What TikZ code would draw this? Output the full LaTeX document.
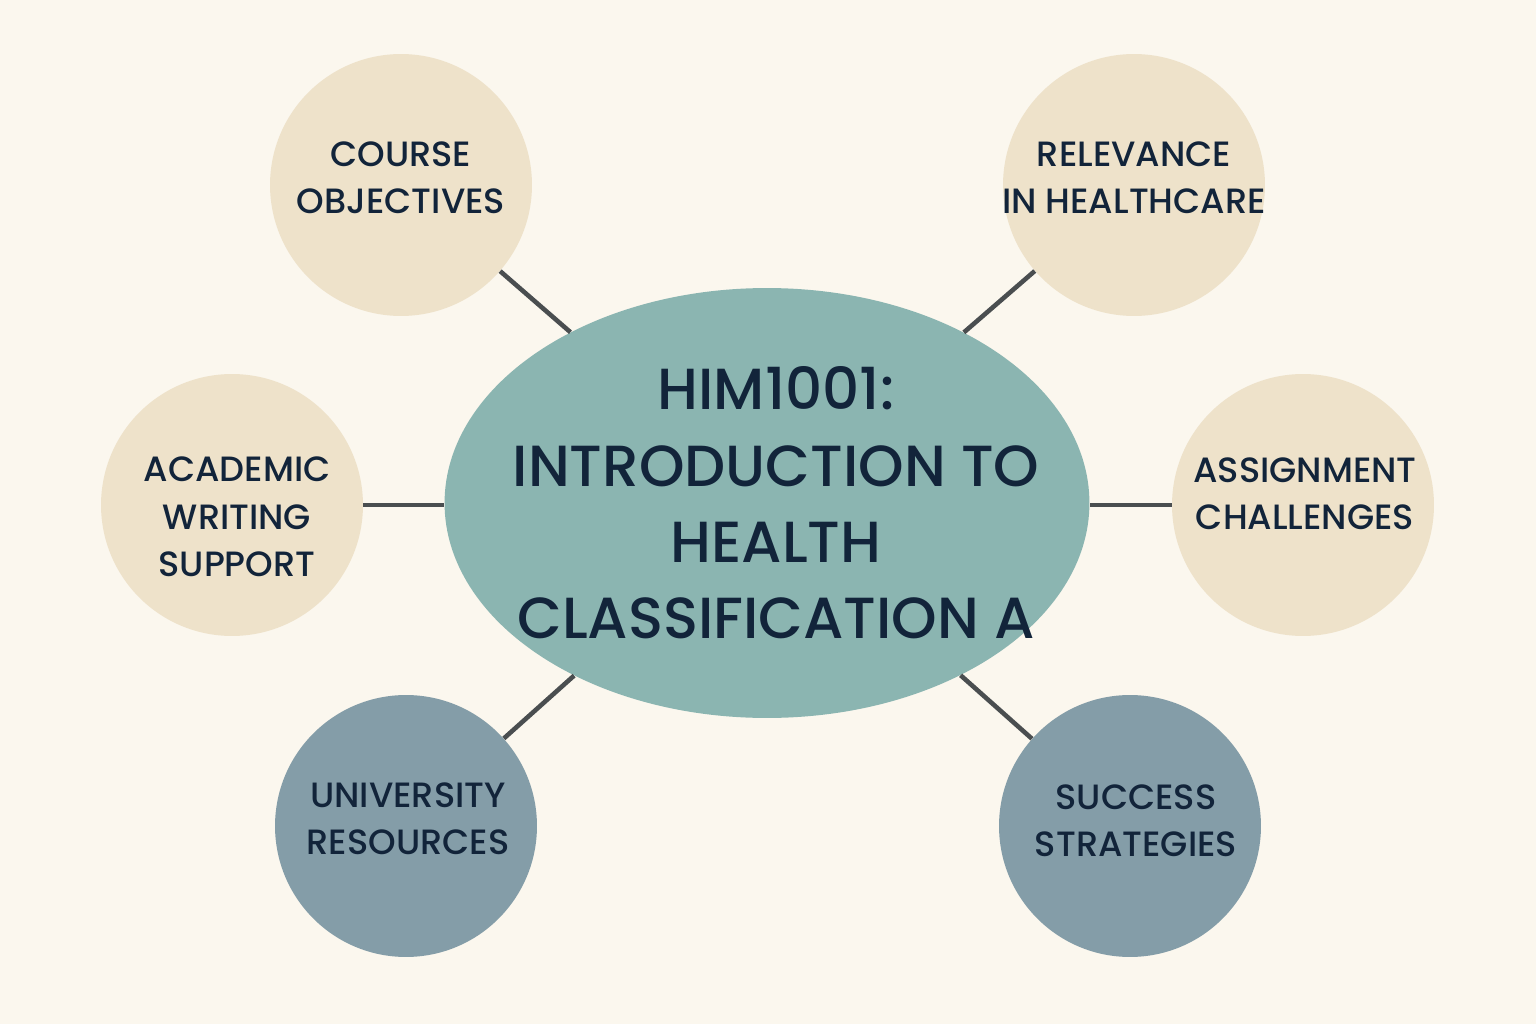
\documentclass[tikz,border=0pt]{standalone}
\usepackage{fontspec}
\setmainfont{Poppins Medium}
\usetikzlibrary{shapes.geometric}
\definecolor{bg}{HTML}{FBF7EE}
\definecolor{beige}{HTML}{EEE2CA}
\definecolor{teal}{HTML}{8BB5B1}
\definecolor{slate}{HTML}{849DA8}
\definecolor{ink}{HTML}{12243A}
\definecolor{link}{HTML}{4A4E50}
\begin{document}
\begin{tikzpicture}[x=0.02cm,y=-0.02cm,
  bubble/.style={circle,inner sep=0pt,minimum size=5.24cm},
  light/.style={bubble,fill=beige},
  dark/.style={bubble,fill=slate},
  label/.style={align=center,text=ink,inner sep=0pt,font=\fontsize{20}{27}\selectfont},
  hub/.style={ellipse,inner sep=0pt,minimum width=12.9cm,minimum height=8.6cm,fill=teal},
  hubtext/.style={align=center,text=ink,inner sep=0pt,font=\fontsize{33}{43.5}\selectfont},
  link/.style={draw=link,line width=2.6pt}]
\fill[bg] (0,0) rectangle (1536,1024);
\node[hub] (c) at (767,503) {};
\node[light] (co) at (401,185) {};
\node[light] (re) at (1134,185) {};
\node[light] (aw) at (232,505) {};
\node[light] (as) at (1303,505) {};
\node[dark] (ur) at (406,826) {};
\node[dark] (ss) at (1130,826) {};
\node[hubtext] (ct) at (776,503) {HIM1001:\\INTRODUCTION TO\\HEALTH\\CLASSIFICATION A};
\node[label] (cot) at (401,178) {COURSE\\OBJECTIVES};
\node[label] (ret) at (1134,178) {RELEVANCE\\IN HEALTHCARE};
\node[label] (awt) at (237,517) {ACADEMIC\\WRITING\\SUPPORT};
\node[label] (ast) at (1305,494) {ASSIGNMENT\\CHALLENGES};
\node[label] (urt) at (408,819) {UNIVERSITY\\RESOURCES};
\node[label] (sst) at (1136,821) {SUCCESS\\STRATEGIES};
\draw[link] (co) -- (c);
\draw[link] (re) -- (c);
\draw[link] (aw.east) -- (aw.east -| c.west);
\draw[link] (as.west) -- (as.west -| c.east);
\draw[link] (ur) -- (c);
\draw[link] (ss) -- (c);
\end{tikzpicture}
\end{document}
